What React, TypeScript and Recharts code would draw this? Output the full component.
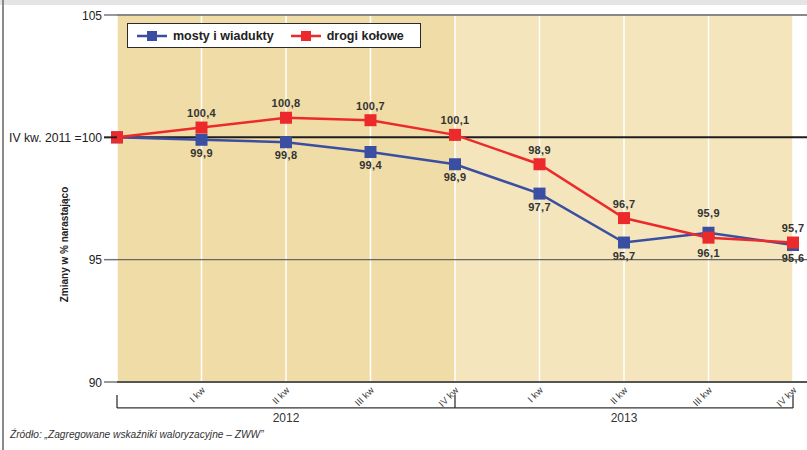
import React from 'react';
import {
  LineChart,
  Line,
  XAxis,
  YAxis,
  ReferenceArea,
  ReferenceLine,
  ReferenceDot,
} from 'recharts';

// Quarter keys, quarter captions and the two index series (IV kw. 2011 = 100)
const periods = ['2011-IV', '2012-I', '2012-II', '2012-III', '2012-IV', '2013-I', '2013-II', '2013-III', '2013-IV'];
const quarterLabels = ['', 'I kw', 'II kw', 'III kw', 'IV kw', 'I kw', 'II kw', 'III kw', 'IV kw'];
const mostyIWiadukty = [100, 99.9, 99.8, 99.4, 98.9, 97.7, 95.7, 96.1, 95.6];
const drogiKolowe = [100, 100.4, 100.8, 100.7, 100.1, 98.9, 96.7, 95.9, 95.7];

// Year groups under the quarter axis
const years = ['2012', '2013'];
const yearStart = ['2011-IV', '2012-IV'];
const yearEnd = ['2012-IV', '2013-IV'];
const yearMiddle = ['2012-II', '2013-II'];
const yearShade = ['#f0dca7', '#f4e5bd'];

const yTicks = [90, 95, 100, 105];

const data = periods.map((period, i) => ({
  period,
  quarter: quarterLabels[i],
  mosty: mostyIWiadukty[i],
  drogi: drogiKolowe[i],
}));

const BLUE = '#3a4ea2';
const RED = '#ec2a2c';
const FONT = '"Liberation Sans", Arial, Helvetica, sans-serif';

// bracket levels below the plot, in axis units
const BRACKET_LINE = 88.94;
const BRACKET_TOP = 89.47;
const YEAR_TEXT = 88.38;

const fmt = (v: number) => v.toFixed(1).replace('.', ',');

const SquareDot = (color: string) => (props: any) => {
  const { cx, cy, index } = props;
  if (cx == null || cy == null) return null;
  return <rect key={`d-${index}`} x={cx - 6} y={cy - 6} width={12} height={12} fill={color} />;
};

// Red values sit above their marker, blue values below; where the series
// swap order the labels move further out so they clear the other marker.
const ValueLabel = (above: boolean) => (props: any) => {
  const { x, y, value, index } = props;
  if (index === 0) return null;
  const swapped = drogiKolowe[index] < mostyIWiadukty[index];
  const ty = above ? y - 10.5 - (swapped ? 10 : 0) : y + 17 + (swapped ? 7 : 0);
  return (
    <text
      key={`l-${index}`}
      x={x}
      y={ty}
      textAnchor="middle"
      fontFamily={FONT}
      fontWeight="bold"
      fontSize={11}
      letterSpacing={0.3}
      fill="#333"
    >
      {fmt(value)}
    </text>
  );
};

const YTick = (props: any) => {
  const { x, y, payload } = props;
  const base = payload.value === 100;
  return (
    <g>
      <line
        x1={x + 2}
        x2={x + 15}
        y1={y}
        y2={y}
        stroke={base ? '#222' : '#777'}
        strokeWidth={base ? 2 : 1.5}
      />
      <text
        x={x}
        y={y}
        dy={4.5}
        textAnchor="end"
        fontFamily={FONT}
        fontSize={base ? 12.2 : 12}
        fill="#222"
      >
        {base ? 'IV kw. 2011 =100' : payload.value}
      </text>
    </g>
  );
};

const XTick = (props: any) => {
  const { x, y, payload } = props;
  const idx = periods.indexOf(payload.value);
  const text = quarterLabels[idx];
  if (!text) return null;
  return (
    <text
      x={x + 4}
      y={y + 9}
      textAnchor="end"
      transform={`rotate(-45 ${x + 4} ${y + 9})`}
      fontFamily={FONT}
      fontSize={9.5}
      fill="#333"
    >
      {text}
    </text>
  );
};

const AxisTitle = (props: any) => {
  const vb = props.viewBox || { x: 57, y: 15, width: 60, height: 367 };
  const cx = vb.x + 11;
  const cy = vb.y + vb.height / 2 + 46;
  return (
    <text
      x={cx}
      y={cy}
      transform={`rotate(-90 ${cx} ${cy})`}
      textAnchor="middle"
      fontFamily={FONT}
      fontWeight="bold"
      fontSize={10}
      fill="#222"
    >
      Zmiany w % narastająco
    </text>
  );
};

const LegendSample = ({ color }: { color: string }) => (
  <svg width={30} height={12} style={{ display: 'block' }}>
    <line x1={0} x2={30} y1={6} y2={6} stroke={color} strokeWidth={2.5} />
    <rect x={10} y={1} width={10} height={10} fill={color} />
  </svg>
);

const LegendBox = () => (
  <div
    style={{
      position: 'absolute',
      left: 127,
      top: 23,
      width: 294,
      height: 25,
      boxSizing: 'border-box',
      border: '1.5px solid #2a2a2a',
      background: '#fff',
      display: 'flex',
      alignItems: 'center',
      paddingLeft: 9,
      fontFamily: FONT,
      fontWeight: 'bold',
      fontSize: 12.5,
      color: '#222',
    }}
  >
    <LegendSample color={BLUE} />
    <span style={{ marginLeft: 6, marginRight: 17 }}>mosty i wiadukty</span>
    <LegendSample color={RED} />
    <span style={{ marginLeft: 6 }}>drogi kołowe</span>
  </div>
);

export default function App() {
  return (
    <div
      style={{
        position: 'absolute',
        left: 0,
        top: 0,
        width: 807,
        height: 450,
        background: '#fff',
        overflow: 'hidden',
      }}
    >
      <div style={{ position: 'absolute', left: 0, top: 0, width: 807, height: 5, background: '#e4e4e4' }} />
      <div style={{ position: 'absolute', left: 2, top: 0, width: 2, height: 450, background: '#8a8a8a' }} />

      <LineChart
        width={807}
        height={450}
        data={data}
        margin={{ top: 15, right: 0, bottom: 0, left: 57 }}
        style={{ position: 'absolute', left: 0, top: 0 }}
      >
        <XAxis
          dataKey="period"
          type="category"
          padding={{ left: 0, right: 14 }}
          height={68}
          interval={0}
          tickSize={0}
          tickMargin={0}
          tickLine={false}
          axisLine={{ stroke: '#555', strokeWidth: 2 }}
          tick={<XTick />}
        />
        <YAxis
          type="number"
          domain={[90, 105]}
          ticks={yTicks}
          interval={0}
          width={60}
          tickSize={13}
          tickMargin={2}
          tickLine={false}
          axisLine={false}
          tick={<YTick />}
          label={<AxisTitle />}
        />

        {years.map((yr, i) => (
          <ReferenceArea
            key={`bg-${yr}`}
            x1={yearStart[i]}
            x2={yearEnd[i]}
            y1={90}
            y2={105}
            fill={yearShade[i]}
            fillOpacity={1}
            stroke="none"
          />
        ))}

        {periods.map((p) => (
          <ReferenceLine key={`v-${p}`} x={p} stroke="#ffffff" strokeWidth={1.5} />
        ))}

        <ReferenceLine y={105} stroke="#888" strokeWidth={2} />
        <ReferenceLine y={95} stroke="#666" strokeWidth={1.2} />
        <ReferenceLine y={100} stroke="#1e1e1e" strokeWidth={2} />

        {/* year brackets */}
        <ReferenceLine
          ifOverflow="visible"
          segment={[
            { x: periods[0], y: BRACKET_LINE },
            { x: periods[periods.length - 1], y: BRACKET_LINE },
          ]}
          stroke="#333"
          strokeWidth={1.3}
        />
        {[periods[0], periods[4], periods[8]].map((p) => (
          <ReferenceLine
            key={`bt-${p}`}
            ifOverflow="visible"
            segment={[
              { x: p, y: BRACKET_LINE },
              { x: p, y: BRACKET_TOP },
            ]}
            stroke="#333"
            strokeWidth={1.3}
          />
        ))}
        {years.map((yr, i) => (
          <ReferenceDot
            key={`yl-${yr}`}
            x={yearMiddle[i]}
            y={YEAR_TEXT}
            ifOverflow="visible"
            r={0}
            shape={(p: any) => (
              <text
                x={p.cx}
                y={p.cy}
                textAnchor="middle"
                fontFamily={FONT}
                fontSize={12}
                fill="#333"
              >
                {yr}
              </text>
            )}
          />
        ))}

        <Line
          type="linear"
          dataKey="mosty"
          stroke={BLUE}
          strokeWidth={2.5}
          dot={SquareDot(BLUE)}
          activeDot={false}
          label={ValueLabel(false)}
          isAnimationActive={false}
        />
        <Line
          type="linear"
          dataKey="drogi"
          stroke={RED}
          strokeWidth={2.5}
          dot={SquareDot(RED)}
          activeDot={false}
          label={ValueLabel(true)}
          isAnimationActive={false}
        />
      </LineChart>

      <LegendBox />

      <div
        style={{
          position: 'absolute',
          left: 10,
          top: 429,
          fontFamily: FONT,
          fontStyle: 'italic',
          fontSize: 10.2,
          color: '#333',
          whiteSpace: 'nowrap',
        }}
      >
        Źródło: „Zagregowane wskaźniki waloryzacyjne – ZWW”
      </div>
    </div>
  );
}
